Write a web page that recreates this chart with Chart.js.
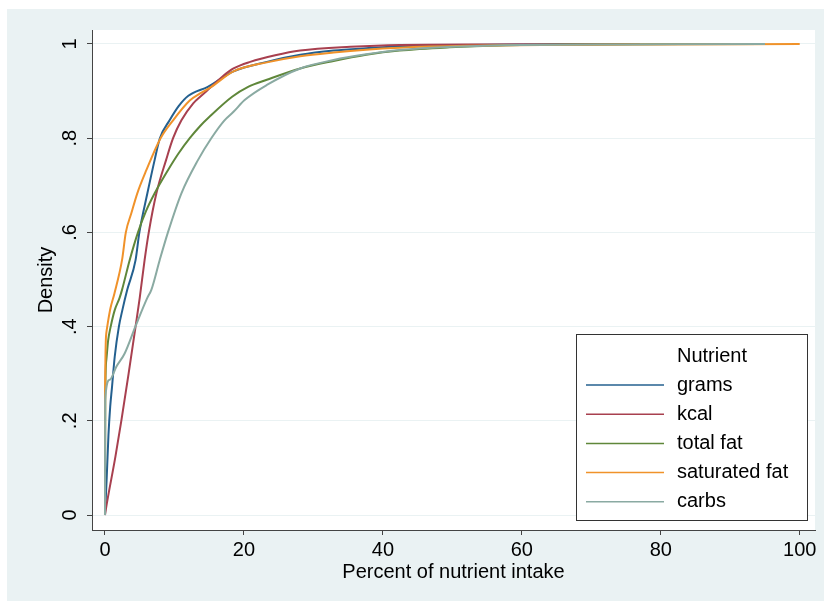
<!DOCTYPE html>
<html>
<head>
<meta charset="utf-8">
<script src="https://cdn.jsdelivr.net/npm/chart.js@4.4.1/dist/chart.umd.min.js"></script>
<style>
html, body { margin: 0; padding: 0; background: #fff; }
</style>
</head>
<body>
<canvas id="grafico" width="824" height="602"></canvas>
<script>
// Datos (curvas acumuladas por nutriente)
const nombres = ['grams', 'kcal', 'total fat', 'saturated fat', 'carbs'];
const tituloLeyenda = 'Nutrient';

const gramsX = [0, 0.25, 0.5, 0.75, 1.0, 1.4, 2.0, 2.5, 3.2, 4.4, 4.95, 6.1, 7.15, 7.9, 9.3, 10.6, 12.0, 14.8, 18.5, 23.3, 28.1, 32.9, 37.6, 42.4, 52, 62, 76];
const gramsY = [0, 0.08, 0.17, 0.23, 0.27, 0.336, 0.40, 0.435, 0.478, 0.541, 0.6, 0.683, 0.754, 0.8, 0.838, 0.868, 0.89, 0.909, 0.942, 0.962, 0.977, 0.986, 0.991, 0.995, 0.998, 0.999, 1];

const kcalX = [0, 0.1, 1.5, 2.35, 3.4, 4.4, 5.0, 5.7, 6.3, 7.4, 8.8, 9.8, 11.0, 12.7, 13.7, 15.3, 17.0, 18.5, 20.9, 24.5, 28.1, 35.3, 42.4, 55, 77];
const kcalY = [0, 0.01, 0.124, 0.2, 0.3, 0.4, 0.461, 0.541, 0.6, 0.683, 0.754, 0.8, 0.838, 0.874, 0.888, 0.909, 0.932, 0.948, 0.962, 0.976, 0.986, 0.994, 0.998, 0.999, 1];

const grasaX = [0, 0.04, 0.2, 0.45, 0.82, 1.4, 2.1, 2.45, 3.55, 4.75, 5.9, 7.15, 9.06, 10.6, 12.2, 13.7, 15.0, 18.3, 20.6, 23.3, 28.1, 32.9, 37.6, 42.4, 49.6, 56.8, 70, 90];
const grasaY = [0, 0.25, 0.33, 0.37, 0.4, 0.435, 0.461, 0.478, 0.541, 0.6, 0.645, 0.683, 0.732, 0.768, 0.8, 0.826, 0.845, 0.888, 0.909, 0.924, 0.948, 0.964, 0.977, 0.986, 0.993, 0.997, 0.999, 1];

const saturadaX = [0, 0.02, 0.19, 0.43, 0.8, 1.35, 2.45, 3.0, 3.8, 4.65, 5.95, 8.0, 9.8, 12.2, 13.7, 15.3, 18.5, 23.3, 28.1, 32.9, 37.6, 42.4, 52, 65, 80, 100];
const saturadaY = [0, 0.265, 0.386, 0.41, 0.44, 0.47, 0.541, 0.6, 0.641, 0.683, 0.732, 0.8, 0.838, 0.88, 0.895, 0.909, 0.942, 0.961, 0.974, 0.982, 0.988, 0.992, 0.996, 0.998, 0.999, 1];

const carbsX = [0, 0.02, 0.67, 1.63, 2.83, 4.37, 6.09, 6.67, 7.87, 9.06, 11.0, 13.4, 15.3, 17.2, 18.5, 20.1, 23.3, 28.1, 32.9, 37.6, 42.4, 50, 60, 75, 95];
const carbsY = [0, 0.244, 0.287, 0.315, 0.343, 0.4, 0.461, 0.478, 0.541, 0.6, 0.683, 0.754, 0.8, 0.838, 0.856, 0.881, 0.913, 0.948, 0.966, 0.978, 0.987, 0.994, 0.998, 0.999, 1];

const ticksX = [0, 20, 40, 60, 80, 100];
const ticksY = [0, 0.2, 0.4, 0.6, 0.8, 1];

const colores = ['#24608F', '#A8404F', '#5F873A', '#F0922A', '#8AAAA2'];

const fuente = '"Liberation Sans", Arial, Helvetica, sans-serif';

function puntos(xs, ys) {
    return xs.map((x, i) => ({ x: x, y: ys[i] }));
}

const series = [
    puntos(gramsX, gramsY),
    puntos(kcalX, kcalY),
    puntos(grasaX, grasaY),
    puntos(saturadaX, saturadaY),
    puntos(carbsX, carbsY)
];

// Fondo estilo Stata
const fondo = {
    id: 'fondo',
    beforeDraw(chart) {
        const ctx = chart.ctx;
        const a = chart.chartArea;
        ctx.save();
        ctx.fillStyle = '#ffffff';
        ctx.fillRect(0, 0, chart.width, chart.height);
        ctx.fillStyle = '#EAF2F3';
        ctx.fillRect(7, 9, chart.width - 7, 592);
        ctx.fillStyle = '#ffffff';
        ctx.fillRect(a.left, a.top, a.right - a.left, a.bottom - a.top);
        ctx.restore();
    }
};

// Leyenda dentro del area del grafico
const leyenda = {
    id: 'leyenda',
    afterDraw(chart) {
        const ctx = chart.ctx;
        const a = chart.chartArea;
        const ancho = 231, alto = 186;
        const x0 = a.right - 8 - ancho;
        const y0 = a.bottom - 10 - alto;
        ctx.save();
        ctx.fillStyle = '#ffffff';
        ctx.fillRect(x0, y0, ancho, alto);
        ctx.strokeStyle = '#333333';
        ctx.lineWidth = 1;
        ctx.strokeRect(x0 + 0.5, y0 + 0.5, ancho, alto);
        ctx.font = '20px ' + fuente;
        ctx.fillStyle = '#000000';
        ctx.textBaseline = 'middle';
        ctx.textAlign = 'left';
        ctx.fillText(tituloLeyenda, x0 + 101, y0 + 22);
        chart.data.datasets.forEach((ds, i) => {
            const y = y0 + 51 + i * 29.2;
            ctx.strokeStyle = ds.borderColor;
            ctx.lineWidth = 1.5;
            ctx.beginPath();
            ctx.moveTo(x0 + 10, y);
            ctx.lineTo(x0 + 88, y);
            ctx.stroke();
            ctx.fillStyle = '#000000';
            ctx.fillText(ds.label, x0 + 101, y);
        });
        ctx.restore();
    }
};

const ctx = document.getElementById('grafico').getContext('2d');

new Chart(ctx, {
    type: 'line',
    data: {
        datasets: series.map((datos, i) => ({
            label: nombres[i],
            data: datos,
            borderColor: colores[i],
            backgroundColor: colores[i],
            borderWidth: 2,
            pointRadius: 0,
            fill: false,
            cubicInterpolationMode: 'monotone',
            order: 5 - i
        }))
    },
    options: {
        responsive: false,
        animation: false,
        devicePixelRatio: 1,
        layout: { padding: { left: 0, top: 30, right: 9, bottom: 0 } },
        plugins: {
            legend: { display: false },
            tooltip: { enabled: false }
        },
        scales: {
            x: {
                type: 'linear',
                min: -1.87,
                max: 102.2,
                afterBuildTicks: (scale) => { scale.ticks = ticksX.map(v => ({ value: v })); },
                afterFit: (scale) => { scale.height = 72; },
                grid: { drawOnChartArea: false, drawTicks: true, tickLength: 5, tickColor: '#444444' },
                border: { color: '#444444', width: 1 },
                ticks: { color: '#000000', font: { family: fuente, size: 20 }, padding: 3, maxRotation: 0 },
                title: { display: true, text: 'Percent of nutrient intake', color: '#000000', font: { family: fuente, size: 20 }, padding: { top: 0, bottom: 18 } }
            },
            y: {
                type: 'linear',
                min: -0.0318,
                max: 1.0297,
                afterBuildTicks: (scale) => { scale.ticks = ticksY.map(v => ({ value: v })); },
                afterFit: (scale) => { scale.width = 92; },
                grid: { color: '#EAF2F3', lineWidth: 1, drawTicks: true, tickLength: 5, tickColor: '#444444' },
                border: { color: '#444444', width: 1 },
                ticks: {
                    color: '#000000',
                    font: { family: fuente, size: 20 },
                    minRotation: 90,
                    maxRotation: 90,
                    crossAlign: 'center',
                    padding: 8,
                    callback: (v) => String(v).replace('0.', '.')
                },
                title: { display: true, text: 'Density', color: '#000000', font: { family: fuente, size: 20 }, padding: { top: 34, bottom: 0 } }
            }
        }
    },
    plugins: [fondo, leyenda]
});
</script>
</body>
</html>
